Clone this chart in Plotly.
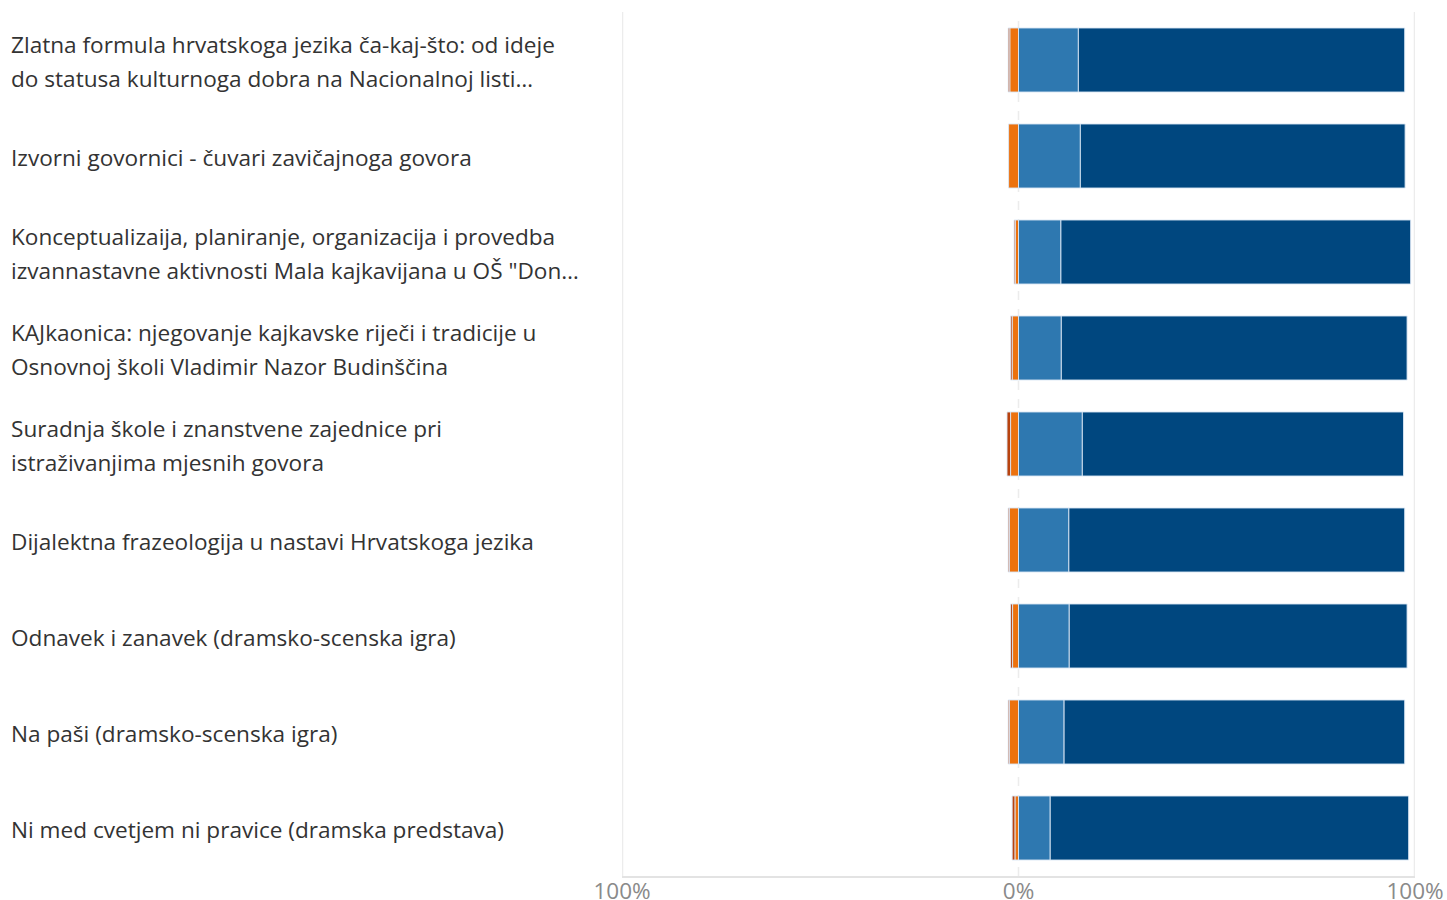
import plotly.graph_objects as go

categories = [
    "Zlatna formula hrvatskoga jezika ča-kaj-što: od ideje<br>do statusa kulturnoga dobra na Nacionalnoj listi…",
    "Izvorni govornici - čuvari zavičajnoga govora",
    "Konceptualizaija, planiranje, organizacija i provedba<br>izvannastavne aktivnosti Mala kajkavijana u OŠ \"Don…",
    "KAJkaonica: njegovanje kajkavske riječi i tradicije u<br>Osnovnoj školi Vladimir Nazor Budinščina",
    "Suradnja škole i znanstvene zajednice pri<br>istraživanjima mjesnih govora",
    "Dijalektna frazeologija u nastavi Hrvatskoga jezika",
    "Odnavek i zanavek (dramsko-scenska igra)",
    "Na paši (dramsko-scenska igra)",
    "Ni med cvetjem ni pravice (dramska predstava)",
]

strongly_disagree = [0.4, 0.0, 0.3, 0.4, 0.9, 0.3, 0.5, 0.3, 0.7]
disagree = [2.2, 2.5, 0.8, 1.6, 2.0, 2.3, 1.5, 2.3, 0.9]
agree = [15.1, 15.6, 10.7, 10.8, 16.1, 12.7, 12.8, 11.5, 8.0]
strongly_agree = [82.3, 81.9, 88.2, 87.2, 81.0, 84.7, 85.2, 85.9, 90.4]

tick_vals = [-100, 0, 100]
tick_text = ["100%", "0%", "100%"]

ids = list(range(len(categories)))
FONT = "Open Sans, Noto Sans, sans-serif"

fig = go.Figure()
line = dict(color="rgba(220,232,245,0.9)", width=1)
fig.add_trace(go.Bar(y=ids, x=[-v for v in disagree], orientation="h",
                     marker=dict(color="#EC720E", line=line), name="Disagree"))
fig.add_trace(go.Bar(y=ids, x=[-v for v in strongly_disagree], orientation="h",
                     marker=dict(color="#B8430F", line=line), name="Strongly disagree"))
fig.add_trace(go.Bar(y=ids, x=agree, orientation="h",
                     marker=dict(color="#2E78B0", line=line), name="Agree"))
fig.add_trace(go.Bar(y=ids, x=strongly_agree, orientation="h",
                     marker=dict(color="#00477F", line=line), name="Strongly agree"))

# category labels, left aligned, split into lines with wider spacing
W, H = 1447, 900
L, R, T, B = 622, 32, 12, 24
plot_w = W - L - R
label_x = (9 - L) / plot_w
for i, cat in enumerate(categories):
    lines = cat.split("<br>")
    n = len(lines)
    for j, ln in enumerate(lines):
        shift = (j - (n - 1) / 2) * 34
        fig.add_annotation(x=label_x, xref="paper", y=i, yref="y", text=ln,
                           showarrow=False, xanchor="left", yanchor="middle",
                           yshift=-shift - 1,
                           font=dict(family=FONT, size=22.6, color="#333333"))

# gridlines
for v in tick_vals:
    fig.add_shape(type="line", x0=v, x1=v, y0=0, y1=1, xref="x", yref="paper",
                  line=dict(color="#ececec", width=2.5 if v != 0 else 1.5,
                            dash="solid" if v != 0 else "dash"), layer="below")

fig.update_layout(
    width=W, height=H, autosize=False,
    margin=dict(l=L, r=R, t=T, b=B, autoexpand=False),
    paper_bgcolor="white", plot_bgcolor="white",
    barmode="relative", bargap=0.333,
    showlegend=False,
    xaxis=dict(range=[-100, 100], tickvals=tick_vals, ticktext=tick_text, automargin=False,
               showgrid=False, zeroline=False, showline=True, linecolor="#e3e3e3", linewidth=1.5,
               ticks="", ticklen=0, ticklabelstandoff=-6,
               tickfont=dict(family=FONT, size=22.5, color="#8a8a8a"),
               fixedrange=True),
    yaxis=dict(range=[len(categories) - 0.5, -0.5], showticklabels=False, showgrid=False,
               automargin=False, zeroline=False, showline=False, fixedrange=True),
)

fig.write_html(
    "out.html",
    config={"displayModeBar": False, "responsive": False},
    post_script="document.body.style.margin='0';document.body.style.overflow='hidden';",
)
